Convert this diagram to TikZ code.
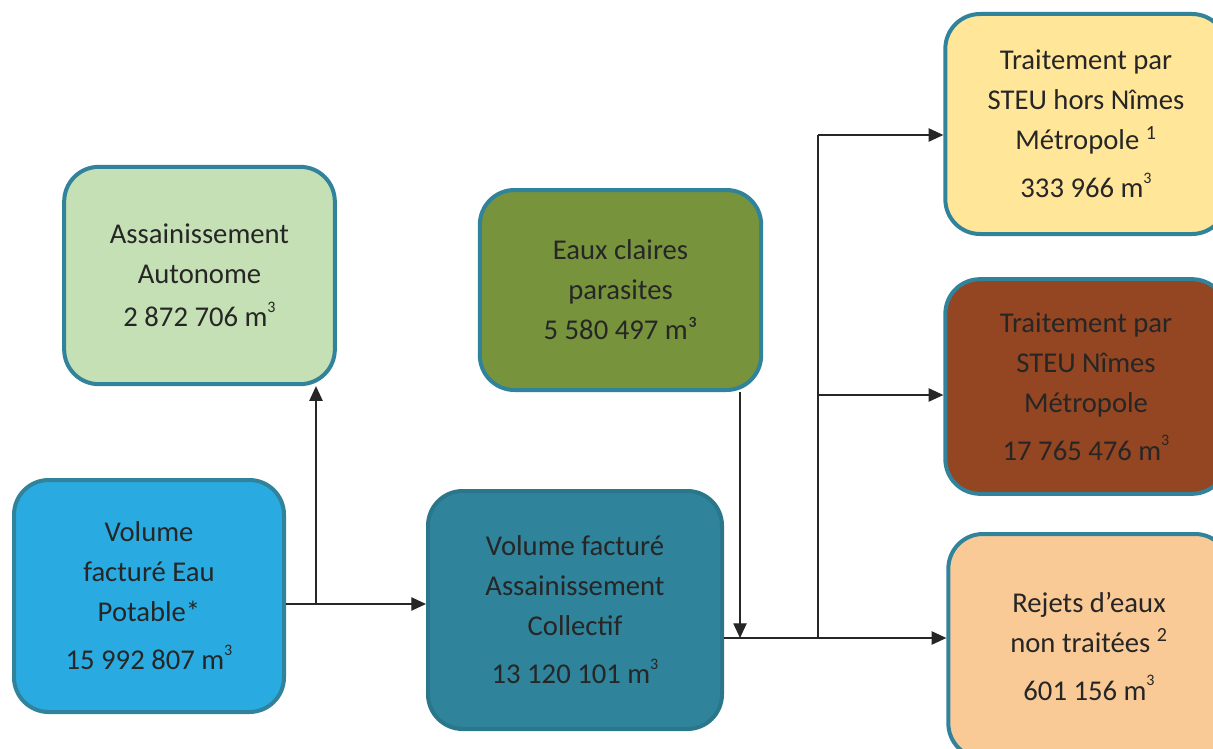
\documentclass[tikz,border=0pt]{standalone}
\usepackage{fontspec}
\setmainfont{Carlito}
\usetikzlibrary{arrows.meta}

\definecolor{bordteal}{HTML}{31829B}
\definecolor{autogreen}{HTML}{C5E0B4}
\definecolor{olive}{HTML}{77933C}
\definecolor{skyblue}{HTML}{29ABE2}
\definecolor{collteal}{HTML}{2F839A}
\definecolor{paleyellow}{HTML}{FFE699}
\definecolor{rust}{HTML}{944521}
\definecolor{peach}{HTML}{FACA96}
\definecolor{inkgray}{HTML}{262626}

\newcommand{\mcube}{\raisebox{1.05ex}{\fontsize{12}{12}\selectfont 3}}

\tikzset{every picture/.style={line width=0.75pt}}
\tikzset{
  volbox/.style={draw=bordteal, line width=3pt, rounded corners=26pt, align=center,
    text=inkgray, font=\fontsize{21.5}{30}\selectfont, inner sep=0pt},
  flow/.style={draw=black!85, line width=0.9pt, -{Triangle[length=11pt,width=10pt]}},
  busline/.style={draw=black!85, line width=0.9pt}
}

\begin{document}
\begin{tikzpicture}[x=0.75pt,y=0.75pt,yscale=-1,xscale=1]
	\useasboundingbox (0,0) rectangle (1213,749);
	\clip (0,0) rectangle (1213,749);

	%Shape: Rounded Rect [id:autonome]
	\node[volbox, fill=autogreen, minimum width=203pt, minimum height=163pt] (autonome) at (199.5,275.5)
		{Assainissement\\ Autonome\\[2pt] 2 872 706 m\mcube};
	%Shape: Rounded Rect [id:parasites]
	\node[volbox, fill=olive, minimum width=211pt, minimum height=150pt] (parasites) at (620.5,290)
		{Eaux claires\\ parasites\\ 5 580 497 m³};
	%Shape: Rounded Rect [id:potable]
	\node[volbox, fill=skyblue, minimum width=202.5pt, minimum height=174pt] (potable) at (149,596)
		{Volume\\ facturé Eau\\ Potable*\\[6pt] 15 992 807 m\mcube};
	%Shape: Rounded Rect [id:collectif]
	\node[volbox, fill=collteal, draw=collteal!90!black, minimum width=220.5pt, minimum height=178.5pt] (collectif) at (575,610)
		{Volume facturé\\ Assainissement\\ Collectif\\[6pt] 13 120 101 m\mcube};
	%Shape: Rounded Rect [id:hors]
	\node[volbox, fill=paleyellow, minimum width=211pt, minimum height=165pt] (hors) at (1086,124)
		{Traitement par\\ STEU hors Nîmes\\ Métropole \textsuperscript{1}\\[6pt] 333 966 m\mcube};
	%Shape: Rounded Rect [id:nimes]
	\node[volbox, fill=rust, minimum width=211pt, minimum height=161pt] (nimes) at (1086,386.5)
		{Traitement par\\ STEU Nîmes\\ Métropole\\[6pt] 17 765 476 m\mcube};
	%Shape: Rounded Rect [id:rejets]
	\node[volbox, fill=peach, minimum width=211pt, minimum height=168pt] (rejets) at (1089,646)
		{Rejets d’eaux\\ non traitées \textsuperscript{2}\\[6pt] 601 156 m\mcube};

	% junction points
	\coordinate (split) at (316,604);
	\coordinate (join) at (740,638);
	\coordinate (bus) at (818,638);
	\coordinate (bustop) at (818,135);
	\coordinate (busmid) at (818,395);

	%Straight Lines
	\draw[flow] (potable.east |- split) -- (collectif.west |- split);
	\draw[flow] (split) -- (split |- autonome.south);
	\draw[flow] (parasites.south -| join) -- (join);
	\draw[flow] (collectif.east |- join) -- (rejets.west |- join);
	\draw[busline] (bus) -- (bustop);
	\draw[flow] (bustop) -- (bustop -| hors.west);
	\draw[flow] (busmid) -- (busmid -| nimes.west);

\end{tikzpicture}
\end{document}
